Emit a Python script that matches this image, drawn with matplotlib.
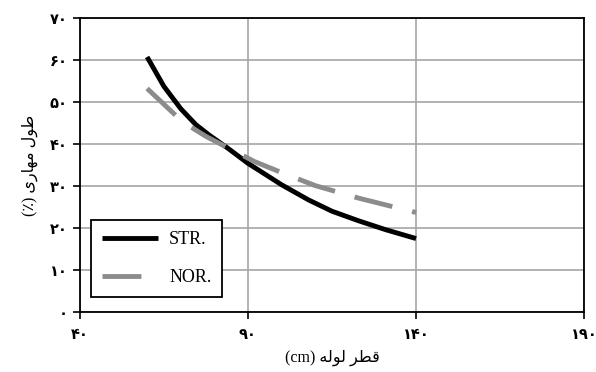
import matplotlib
matplotlib.use("Agg")
import matplotlib.pyplot as plt

# values
str_x = [60, 65, 70, 74.5, 78.5, 84, 90, 100, 108, 115, 123, 131, 140]
str_y = [60.7, 53.7, 48.4, 44.6, 42.1, 39.0, 35.4, 30.3, 26.7, 24.0, 21.7, 19.6, 17.5]
nor_x = [60, 70.5, 77.5, 92, 100, 110, 123, 140]
nor_y = [53.2, 45.3, 41.8, 35.8, 33.2, 30.1, 27.1, 23.7]

x_ticks = [40, 90, 140, 190]
x_ticklabels = ["۴۰", "۹۰", "۱۴۰", "۱۹۰"]
y_ticks = [0, 10, 20, 30, 40, 50, 60, 70]
y_ticklabels = ["۰", "۱۰", "۲۰", "۳۰", "۴۰", "۵۰", "۶۰", "۷۰"]

# Persian labels, pre-shaped in visual (left-to-right) order
x_label = "(cm) " + "\uFEEA\uFEDF\uFEEE\uFEDF" + " " + "\uFEAE\uFEC4\uFED7"   # قطر لوله (cm)
y_label = "(٪) " + "\uFBFC\uFEAD\uFE8E\uFEEC\uFEE3" + " " + "\uFEDD\uFEEE\uFEC3"  # طول مهاری (٪)

fonts = ["Liberation Serif", "DejaVu Sans"]

fig = plt.figure(figsize=(5.96, 3.72), dpi=100)
ax = fig.add_axes([0.134, 0.161, 0.846, 0.791])

ax.plot(str_x, str_y, color="black", lw=3.5, solid_capstyle="butt", solid_joinstyle="round",
        label="STR.", zorder=3)
ax.plot(nor_x, nor_y, color="#8c8c8c", lw=3.5, dashes=(8, 4.2), dash_capstyle="butt",
        label="NOR.", zorder=3)

ax.set_xlim(40, 190)
ax.set_ylim(0, 70)
ax.set_xticks(x_ticks)
ax.set_xticklabels(x_ticklabels, family="DejaVu Sans", fontsize=10.5, fontweight="bold")
ax.set_yticks(y_ticks)
ax.set_yticklabels(y_ticklabels, family="DejaVu Sans", fontsize=10.5, fontweight="bold")
ax.tick_params(direction="out", length=5, width=1.2, color="black")
ax.tick_params(axis="x", pad=6)
ax.tick_params(axis="y", pad=4)

ax.grid(True, color="#a6a6a6", lw=1.2)
ax.set_axisbelow(True)
for s in ax.spines.values():
    s.set_color("black")
    s.set_linewidth(1.3)

ax.set_xlabel(x_label, family=fonts, fontsize=11.5, labelpad=5)
ax.set_ylabel(y_label, family=fonts, fontsize=11.5, labelpad=8)

leg = ax.legend(loc="lower left", bbox_to_anchor=(0.023, 0.052), borderaxespad=0,
                prop={"family": "Liberation Serif", "size": 13},
                handlelength=3.1, labelspacing=1.15, borderpad=0.6,
                handletextpad=0.6, fancybox=False, framealpha=1)
leg.get_frame().set_edgecolor("black")
leg.get_frame().set_linewidth(1.3)

fig.savefig("out.png", dpi=100)
